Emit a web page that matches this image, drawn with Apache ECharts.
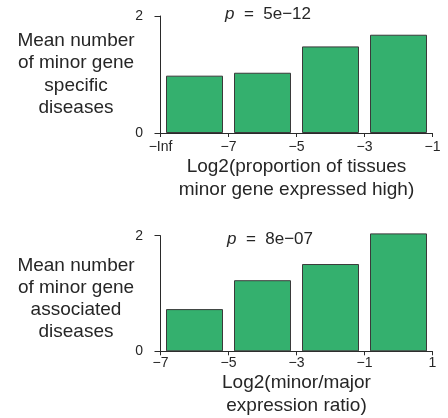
<!DOCTYPE html>
<html>
<head>
<meta charset="utf-8">
<script src="https://cdn.jsdelivr.net/npm/echarts@6/dist/echarts.min.js"></script>
<style>html,body{margin:0;padding:0;background:#fff;}#c{width:448px;height:418px;}</style>
</head>
<body>
<div id="c"></div>
<script>
// Data
var topTickLabels = ['\u2212Inf', '\u22127', '\u22125', '\u22123', '\u22121'];
var topValues = [0.98, 1.03, 1.48, 1.68];
var bottomTickLabels = ['\u22127', '\u22125', '\u22123', '\u22121', '1'];
var bottomValues = [0.73, 1.23, 1.51, 2.04];
var yTicks = [0, 2];
var topYName = 'Mean number\nof minor gene\nspecific\ndiseases';
var bottomYName = 'Mean number\nof minor gene\nassociated\ndiseases';
var topXName = 'Log2(proportion of tissues\nminor gene expressed high)';
var bottomXName = 'Log2(minor/major\nexpression ratio)';
var topP = '5e\u221212';
var bottomP = '8e\u221207';

var FONT = 'Liberation Sans, Arial, Helvetica, sans-serif';
var TXT = '#262626';
var AX = '#2a2a2a';

function toPairs(vals) {
  return vals.map(function (v, i) { return [i + 0.5, v]; });
}

function xAxisDef(gridIndex, labels, name, offset, gap) {
  return {
    type: 'value', gridIndex: gridIndex, min: 0, max: 4, interval: 1,
    offset: offset,
    axisLine: { show: true, lineStyle: { color: AX, width: 1 } },
    axisTick: { show: true, length: 4, lineStyle: { color: AX } },
    splitLine: { show: false },
    axisLabel: {
      margin: 4, fontSize: 14, color: TXT, fontFamily: FONT,
      formatter: function (v) { return labels[Math.round(v)]; }
    },
    name: name, nameLocation: 'middle', nameGap: gap,
    nameTextStyle: { fontSize: 19, lineHeight: 23, color: TXT, fontFamily: FONT, align: 'center' }
  };
}

function yAxisDef(gridIndex) {
  return {
    type: 'value', gridIndex: gridIndex, min: yTicks[0], max: yTicks[1], interval: 2,
    offset: 6.5,
    axisLine: { show: true, lineStyle: { color: AX, width: 1 } },
    axisTick: { show: true, length: 6, lineStyle: { color: AX } },
    splitLine: { show: false },
    axisLabel: { margin: 11, fontSize: 14, color: TXT, fontFamily: FONT }
  };
}

function barSeries(idx, vals) {
  return {
    type: 'bar', xAxisIndex: idx, yAxisIndex: idx, data: toPairs(vals),
    barWidth: 57, clip: false,
    itemStyle: { color: '#34b06e', borderColor: '#3a3a3a', borderWidth: 1 }
  };
}

var chart = echarts.init(document.getElementById('c'), null, { renderer: 'canvas' });
chart.setOption({
  animation: false,
  backgroundColor: '#fff',
  grid: [
    { left: 160.5, right: 15.5, top: 16, height: 117 },
    { left: 160.5, right: 15.5, top: 235.7, height: 120.3 }
  ],
  xAxis: [
    xAxisDef(0, topTickLabels, topXName, 3.5, 17),
    xAxisDef(1, bottomTickLabels, bottomXName, 0.8, 15)
  ],
  yAxis: [yAxisDef(0), yAxisDef(1)],
  series: [barSeries(0, topValues), barSeries(1, bottomValues)],
  graphic: [
    { type: 'text', x: 76, y: 74.5, style: { text: topYName, fill: TXT, font: '19px ' + FONT, align: 'center', verticalAlign: 'middle', lineHeight: 22.5 } },
    { type: 'text', x: 76, y: 299, style: { text: bottomYName, fill: TXT, font: '19px ' + FONT, align: 'center', verticalAlign: 'middle', lineHeight: 22 } },
    { type: 'text', x: 268, y: 14, style: {
        text: '{i|p}{n|  =  ' + topP + '}', align: 'center', verticalAlign: 'middle',
        rich: { i: { fontStyle: 'italic', fontSize: 17, fontFamily: FONT, fill: TXT }, n: { fontSize: 17, fontFamily: FONT, fill: TXT } } } },
    { type: 'text', x: 270, y: 239, style: {
        text: '{i|p}{n|  =  ' + bottomP + '}', align: 'center', verticalAlign: 'middle',
        rich: { i: { fontStyle: 'italic', fontSize: 17, fontFamily: FONT, fill: TXT }, n: { fontSize: 17, fontFamily: FONT, fill: TXT } } } }
  ]
});
</script>
</body>
</html>
